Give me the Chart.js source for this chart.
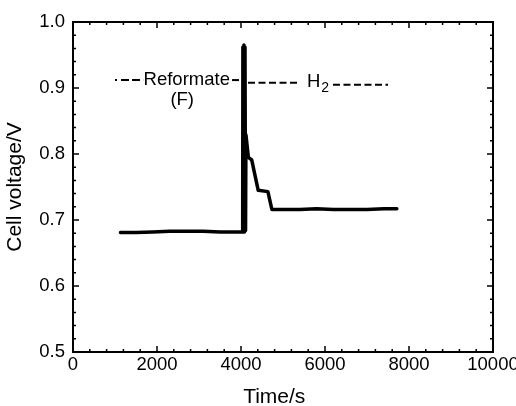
<!DOCTYPE html>
<html>
<head>
<meta charset="utf-8">
<script src="https://cdn.jsdelivr.net/npm/chart.js@4/dist/chart.umd.min.js"></script>
<style>
  html, body { margin: 0; padding: 0; background: #fff; }
  #wrap { width: 516px; height: 406px; }
</style>
</head>
<body>
<div id="wrap"><canvas id="chart"></canvas></div>
<script>
// cell voltage trace (time in s, voltage in V)
const timeS = [1130, 1500, 1900, 2300, 2700, 3100, 3500, 3900, 4040,
  4045, 4058, 4070, 4083, 4095, 4108, 4118, 4175, 4255, 4410, 4640, 4735,
  5000, 5400, 5800, 6200, 6600, 7000, 7400, 7710];
const voltage = [0.681, 0.681, 0.682, 0.683, 0.683, 0.683, 0.682, 0.682, 0.682,
  0.962, 0.682, 0.965, 0.682, 0.962, 0.684, 0.829, 0.795, 0.791, 0.745, 0.743, 0.716,
  0.716, 0.716, 0.717, 0.716, 0.716, 0.716, 0.717, 0.717];

// dashed guide lines of the fuel labels
const reformateLine = [[1000, 0.912], [1670, 0.912]];
const reformateTail = [[3786, 0.912], [3952, 0.912]];
const h2LineLeft = [[4167, 0.908], [5357, 0.908]];
const h2LineRight = [[6190, 0.905], [7500, 0.905]];

const xTicks = [0, 2000, 4000, 6000, 8000, 10000];
const yTicks = [0.5, 0.6, 0.7, 0.8, 0.9, 1.0];

const FONT = 'Liberation Sans, Arial, Helvetica, sans-serif';

const toPts = (xs, ys) => xs.map((t, i) => ({ x: t, y: ys[i] }));
const pairPts = arr => arr.map(p => ({ x: p[0], y: p[1] }));

// frame, inward ticks and the text labels
const framePlugin = {
  id: 'framePlugin',
  afterDatasetsDraw(chart) {
    const { ctx, chartArea: a, scales: { x, y } } = chart;
    ctx.save();
    ctx.strokeStyle = '#000';
    ctx.lineWidth = 1.5;
    for (let v = 0; v <= 10000; v += 400) {
      const px = x.getPixelForValue(v);
      const len = v % 2000 === 0 ? 6 : 3;
      ctx.beginPath();
      ctx.moveTo(px, a.bottom); ctx.lineTo(px, a.bottom - len);
      ctx.moveTo(px, a.top); ctx.lineTo(px, a.top + len);
      ctx.stroke();
    }
    for (let i = 0; i <= 25; i++) {
      const v = 0.5 + i * 0.02;
      const py = y.getPixelForValue(v);
      const len = i % 5 === 0 ? 6 : 3;
      ctx.beginPath();
      ctx.moveTo(a.left, py); ctx.lineTo(a.left + len, py);
      ctx.moveTo(a.right, py); ctx.lineTo(a.right - len, py);
      ctx.stroke();
    }
    ctx.lineWidth = 2;
    ctx.strokeRect(a.left, a.top, a.right - a.left, a.bottom - a.top);

    ctx.fillStyle = '#000';
    ctx.textBaseline = 'middle';
    ctx.font = '18.5px ' + FONT;
    ctx.textAlign = 'left';
    ctx.fillText('Reformate', x.getPixelForValue(1680), y.getPixelForValue(0.912));
    ctx.textAlign = 'center';
    ctx.fillText('(F)', x.getPixelForValue(2600), y.getPixelForValue(0.882));
    ctx.textAlign = 'left';
    const hx = x.getPixelForValue(5571), hy = y.getPixelForValue(0.909);
    ctx.fillText('H', hx, hy);
    const hw = ctx.measureText('H').width;
    ctx.font = '14px ' + FONT;
    ctx.fillText('2', hx + hw + 1, hy + 6);
    ctx.restore();
  }
};

const dashSet = (data, dash, width) => ({
  data: pairPts(data),
  borderColor: '#000',
  borderWidth: width,
  borderDash: dash,
  pointRadius: 0,
  fill: false
});

new Chart(document.getElementById('chart'), {
  type: 'line',
  data: {
    datasets: [
      {
        label: 'Cell voltage',
        data: toPts(timeS, voltage),
        borderColor: '#000',
        borderWidth: 3.5,
        // a zero-gap dash keeps Chart.js off its pixel-merging fast path
        borderDash: [10000, 0],
        borderJoinStyle: 'round',
        borderCapStyle: 'round',
        pointRadius: 0,
        tension: 0,
        fill: false
      },
      dashSet(reformateLine, [2, 4, 8, 3, 8, 3], 2),
      dashSet(reformateTail, [], 2),
      dashSet(h2LineLeft, [7, 3.5], 2),
      dashSet(h2LineRight, [7, 3.5], 2)
    ]
  },
  options: {
    responsive: true,
    maintainAspectRatio: false,
    animation: false,
    layout: { padding: { top: 22, right: 23, left: 0, bottom: 0 } },
    plugins: { legend: { display: false }, tooltip: { enabled: false } },
    scales: {
      x: {
        type: 'linear',
        min: 0,
        max: 10000,
        afterBuildTicks: s => { s.ticks = xTicks.map(v => ({ value: v })); },
        afterFit: s => { s.height = 54; s.paddingLeft = 0; s.paddingRight = 0; },
        grid: { display: false, drawTicks: false },
        border: { display: false },
        ticks: { color: '#000', padding: 2, maxRotation: 0, callback: v => String(v), font: { family: FONT, size: 18.5 } },
        title: {
          display: true,
          text: 'Time/s   ',
          color: '#000',
          padding: { top: 0, bottom: -2 },
          font: { family: FONT, size: 21, lineHeight: 1 }
        }
      },
      y: {
        type: 'linear',
        min: 0.5,
        max: 1.0,
        afterBuildTicks: s => { s.ticks = yTicks.map(v => ({ value: v })); },
        afterFit: s => { s.width = 73; s.paddingTop = 0; s.paddingBottom = 0; },
        grid: { display: false, drawTicks: false },
        border: { display: false },
        ticks: { color: '#000', padding: 8, callback: v => v.toFixed(1), font: { family: FONT, size: 18.5 } },
        title: {
          display: true,
          text: 'Cell voltage/V',
          color: '#000',
          padding: { top: 5, bottom: 0 },
          font: { family: FONT, size: 21, lineHeight: 1 }
        }
      }
    }
  },
  plugins: [framePlugin]
});
</script>
</body>
</html>
